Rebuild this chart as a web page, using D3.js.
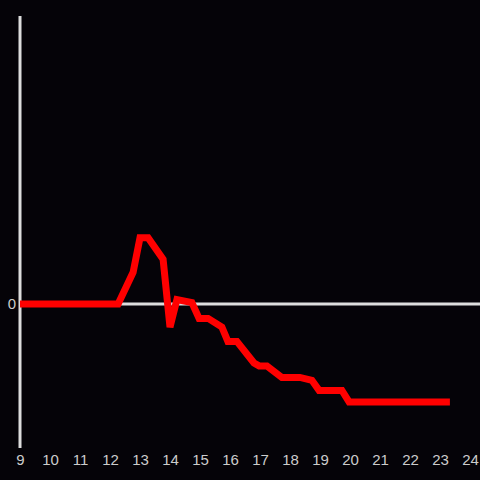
<!DOCTYPE html>
<html><head><meta charset="utf-8">
<script src="https://cdn.jsdelivr.net/npm/d3@7"></script>
<style>html,body{margin:0;padding:0;background:#050308;}svg{display:block;}</style>
</head><body>
<svg id="c" width="480" height="480"></svg>
<script>
const hours = [9, 12.27, 12.77, 13.0, 13.27, 13.77, 14.0, 14.23, 14.73, 14.97, 15.27, 15.73, 15.93, 16.23, 16.8, 16.97, 17.23, 17.73, 18.33, 18.73, 18.97, 19.73, 19.97, 23.33];
const values = [0, 0, 2.2, 4.6, 4.6, 3.1, -1.6, 0.3, 0.1, -1.0, -1.0, -1.6, -2.6, -2.6, -4.1, -4.3, -4.3, -5.1, -5.1, -5.3, -6.0, -6.0, -6.8, -6.8];
const xTicks = [9,10,11,12,13,14,15,16,17,18,19,20,21,22,23,24];
const yTicks = [0];

const svg = d3.select("#c");
svg.append("rect").attr("width",480).attr("height",480).attr("fill","#050308");
const x = d3.scaleLinear().domain([9,24]).range([20,470]);
const y = d3.scaleLinear().domain([-10,20]).range([448,16]);

// y axis line
svg.append("line").attr("x1",x(9)).attr("x2",x(9)).attr("y1",y(20)).attr("y2",y(-10))
  .attr("stroke","#dddddd").attr("stroke-width",3);
// zero line
svg.append("line").attr("x1",x(9)).attr("x2",480).attr("y1",y(0)).attr("y2",y(0))
  .attr("stroke","#dddddd").attr("stroke-width",3);

const xa = svg.append("g").attr("transform","translate(0,448)")
  .call(d3.axisBottom(x).tickValues(xTicks).tickSize(0).tickPadding(6).tickFormat(d3.format("d")));
xa.select(".domain").remove();
xa.selectAll("text").attr("fill","#cccccc").style("font-family","'Liberation Sans', Arial, sans-serif").style("font-size","15px");

const ya = svg.append("g").attr("transform","translate(20,0)")
  .call(d3.axisLeft(y).tickValues(yTicks).tickSize(0).tickPadding(4).tickFormat(d3.format("d")));
ya.select(".domain").remove();
ya.selectAll("text").attr("fill","#cccccc").style("font-family","'Liberation Sans', Arial, sans-serif").style("font-size","15px");

const data = hours.map((h,i)=>[h, values[i]]);
svg.append("path").datum(data)
  .attr("d", d3.line().x(d=>x(d[0])).y(d=>y(d[1])))
  .attr("fill","none").attr("stroke","#ff0000").attr("stroke-width",7)
  .attr("stroke-linejoin","miter").attr("stroke-miterlimit",2);
</script>
</body></html>
